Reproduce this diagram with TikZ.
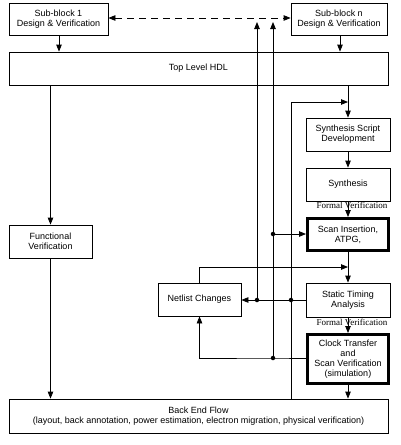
\documentclass[tikz,border=0pt]{standalone}
\usepackage{fontspec}
\setmainfont{Liberation Sans}
\newfontfamily\fvfont{Liberation Serif}
\usetikzlibrary{arrows.meta}
\begin{document}
\begin{tikzpicture}[x=1pt,y=-1pt,
  box/.style={draw,line width=0.8pt,inner sep=0pt,align=center,font=\fontsize{9}{10}\selectfont},
  thickbox/.style={box,line width=3pt},
  conn/.style={line width=0.8pt,-{Triangle[length=7pt,width=5.5pt]}},
  dot/.style={circle,fill,inner sep=0pt,minimum size=4.5pt},
  fvlabel/.style={font=\fvfont\fontsize{9}{10}\selectfont,inner sep=0pt}]
\useasboundingbox (0,0) rectangle (400,445);
\node[box,minimum width=99pt,minimum height=32pt] (sb1) at (58.5,19) {Sub-block 1\\Design \& Verification};
\node[box,minimum width=96pt,minimum height=32pt] (sbn) at (339,19) {Sub-block n\\Design \& Verification};
\node[box,minimum width=379pt,minimum height=33pt] (top) at (198.5,68.5) {Top Level HDL};
\node[box,minimum width=84pt,minimum height=33pt] (ssd) at (348,134.5) {Synthesis Script\\Development};
\node[box,minimum width=84pt,minimum height=33pt] (syn) at (348,184.5) {Synthesis};
\node[thickbox,minimum width=81pt,minimum height=32pt] (scan) at (348,234.5) {Scan Insertion,\\ATPG,};
\node[box,minimum width=84pt,minimum height=34pt] (sta) at (348,300) {Static Timing\\Analysis};
\node[thickbox,minimum width=81pt,minimum height=49pt] (clk) at (348,359) {Clock Transfer\\and\\Scan Verification\\(simulation)};
\node[box,minimum width=83pt,minimum height=33pt] (net) at (199.5,299.5) {Netlist Changes};
\node[box,minimum width=83pt,minimum height=33pt] (fv) at (50.5,241.5) {Functional\\Verification};
\node[box,minimum width=379pt,minimum height=34pt] (bef) at (198.5,416) {Back End Flow\\(layout, back annotation, power estimation, electron migration, physical verification)};
% junctions
\coordinate (t1) at (257,22);
\coordinate (t2) at (273,22);
\coordinate (fb) at (291,102);
\coordinate (fbe) at (348,102);
\coordinate (nt) at (199.5,267);
\coordinate (nte) at (348,267);
\node[dot] (j1) at (257,300) {};
\node[dot] (j2) at (291,300) {};
\node[dot] (j3) at (273,358) {};
\node[dot] (j4) at (273,234) {};
% connectors
\draw[line width=0.8pt,dashed,dash pattern=on 7pt off 5pt,{Triangle[length=7pt,width=5.5pt]}-{Triangle[length=7pt,width=5.5pt]}] (sb1.east |- 0,18) -- (sbn.west |- 0,18);
\draw[conn] (sb1.south -| 59,0) -- (top.north -| 59,0);
\draw[conn] (sbn.south -| 340,0) -- (top.north -| 340,0);
\draw[conn] (top.south -| fv.north) -- (fv.north);
\draw[conn] (fv.south) -- (fv.south |- bef.north);
\draw[conn] (top.south -| ssd.north) -- (ssd.north);
\draw[conn] (ssd.south) -- (syn.north);
\draw[conn] (syn.south) -- (scan.north);
\draw[conn] (scan.south) -- (sta.north);
\draw[conn] (sta.south) -- (clk.north);
\draw[conn] (clk.south) -- (clk.south |- bef.north);
\draw[conn] (sta.west |- 0,300) -- (net.east |- 0,300);
\draw[conn] (clk.west |- j3) -- (j3.center) -| (net.south);
\draw[conn] (net.north) -- (nt) -- (nte);
\draw[conn] (j1.center) -- (t1);
\draw[conn] (j3.center) -- (t2);
\draw[conn] (j4.center) -- (scan.west |- j4);
\draw[conn] (bef.north -| fb) -- (fb) -- (fbe);
% labels
\node[fvlabel] (fv1) at (352,205) {Formal Verification};
\node[fvlabel] (fv2) at (352,322) {Formal Verification};
\end{tikzpicture}
\end{document}
